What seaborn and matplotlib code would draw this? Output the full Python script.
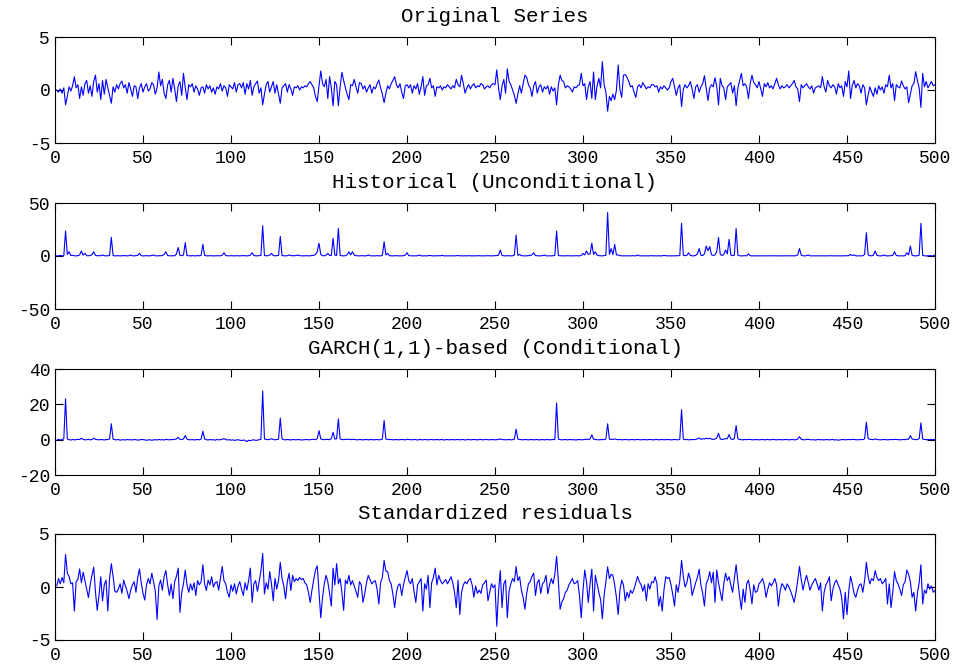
import numpy as np
import pandas as pd
import matplotlib
matplotlib.use("Agg")
import matplotlib.pyplot as plt
import seaborn as sns

titles = ["Original Series", "Historical (Unconditional)",
          "GARCH(1,1)-based (Conditional)", "Standardized residuals"]

original = [
 0.0, -0.2, 0.1, -0.3, 0.2, -1.4, -0.6, 0.3, -0.1, 0.4, 1.25, 0.2, 0.5, -0.8, 0.3, -0.5, 0.6, 0.9, -0.3, 0.4, -0.6, 0.8, 1.4, -0.2, 0.6,
 -0.9, 0.9, -0.4, 1.0, 0.2, -0.5, -1.25, 0.3, -0.2, 0.5, 0.1, 0.6, 0.85, 0.2, 0.5, -0.3, 0.7, 0.1, -0.6, 0.4, 0.3, -0.8, 0.2, 0.6, -0.2,
 0.3, 0.6, -0.1, 0.1, 0.7, 0.5, -0.4, 0.2, 1.7, 0.4, 1.0, -0.3, -0.8, 0.5, 0.9, -0.2, 1.1, 0.1, -1.1, 0.4, 0.8, -0.5, 1.57, 0.2, -0.9,
 0.5, 0.3, 0.6, -0.2, 0.4, 0.1, -0.5, 0.2, 0.3, -0.3, 0.5, 0.1, 0.4, -0.2, 0.2, -0.4, 0.3, 0.1, 0.6, -0.1, 0.4, 0.2, -0.6, 0.5, 0.3,
 0.1, 0.7, -0.2, 0.5, 0.6, 0.2, 0.7, -0.4, 0.6, 0.1, 0.9, -0.5, 0.3, 0.6, 0.85, -0.3, 0.2, -1.4, -0.4, 0.5, 0.8, -0.2, 0.3, 0.8, -0.3,
 0.5, -0.4, -1.26, 0.2, 0.4, 0.6, -0.2, 0.5, 0.1, -0.5, 0.3, 0.2, 0.4, 0.0, 0.3, 0.2, 0.4, 0.3, 0.6, 0.8, 0.5, 0.2, -0.6, -1.1, 0.4,
 1.8, 0.6, 0.3, 1.0, -0.8, 1.26, 0.2, -1.5, 0.8, 0.5, -1.48, 0.3, 1.67, 0.9, 0.2, -0.4, -0.9, 0.5, 0.4, 1.0, 0.3, -0.3, 0.7, 0.6, 0.1,
 0.4, -0.2, 0.2, 0.5, -0.3, 0.3, 0.1, 0.6, 0.94, 0.2, -0.4, -1.2, -0.3, 0.4, 0.1, 0.6, 0.9, 1.26, 0.5, 0.2, 0.6, -0.2, -0.8, 0.4, 0.5,
 0.2, 0.5, -0.3, 0.4, 0.1, 0.6, -0.4, 0.3, 1.26, -0.5, 0.4, 0.5, 1.1, 0.2, 0.4, -0.6, 0.3, 0.2, 0.4, 0.0, 0.3, 0.2, 0.5, 0.3, 0.1,
 0.4, 0.2, 1.0, 0.5, 0.3, 1.4, 0.6, -0.3, 0.2, 0.5, 0.1, 0.4, 0.6, 0.2, 0.4, 0.3, 0.6, 0.5, 0.1, 0.3, 0.4, 0.2, 0.5, 0.6, 0.5,
 1.9, 0.2, -0.9, 0.4, 1.0, -0.3, 2.0, 0.8, 0.5, 0.0, -0.5, -1.26, -0.4, 0.4, -0.3, 0.6, 1.4, 1.2, 0.5, 0.2, -0.6, 0.4, 0.8, -0.3, 0.3,
 0.5, -0.2, 0.3, 0.1, 0.4, -0.4, 0.3, -0.1, 0.2, -1.4, 0.5, 1.4, 0.9, 0.8, 0.2, 0.4, 0.3, 0.1, -0.2, 0.3, 0.2, 0.4, 0.5, 1.57, 0.4,
 0.6, -0.9, 0.3, 0.8, -0.8, 1.7, -0.9, 0.4, 1.1, 0.2, 2.67, 0.5, -0.2, -2.0, -0.6, -1.0, -0.4, -0.9, 0.0, 2.36, 0.0, -0.7, 1.4, 1.45, 1.2,
 0.8, 0.3, 0.4, -0.2, -0.7, 0.3, 0.5, 0.2, 0.7, 0.4, 0.1, 0.3, 0.2, 0.5, 0.5, 0.3, 0.4, -0.2, 0.3, 0.1, 0.4, 0.2, 0.0, 0.2, 0.8,
 1.1, 0.3, -0.5, 0.2, 0.5, -1.57, 0.1, 0.5, 0.2, 0.4, 0.8, 0.1, -0.8, 0.3, 0.5, -0.2, 0.3, 0.6, 1.35, 0.2, -1.0, 0.2, 0.5, 0.3, 1.16,
 0.3, -1.4, 1.1, 0.4, 0.2, -0.9, 0.3, 0.5, 0.7, -0.3, 0.4, -1.48, 0.2, 0.9, 1.57, 0.4, 0.6, 0.3, -0.8, 0.6, 1.4, 0.7, 0.5, 0.2, 0.8,
 0.1, -0.6, 0.6, 0.3, 0.7, 0.2, 0.4, 0.1, 0.6, 1.1, 0.5, 0.1, 0.4, 0.2, 0.3, 0.5, 0.2, 0.4, 0.6, 0.9, 0.3, 0.1, -1.1, 0.5, 0.2,
 0.4, 0.6, 0.3, 0.1, 0.4, -0.3, 0.2, 0.3, 0.4, 0.2, 1.26, 0.3, -0.2, 0.9, 0.4, 0.2, 0.5, 0.3, -0.4, 0.6, 0.2, 0.4, -0.6, 0.8, 0.3,
 1.8, -0.8, 0.4, 0.9, 0.2, 0.6, 0.4, -0.3, 0.5, 0.2, -1.4, -0.5, 0.3, -0.2, -0.6, 0.2, -0.4, 0.4, 0.0, 0.3, -0.3, 0.5, 0.3, 1.4, 0.2,
 0.6, -1.0, 0.5, 0.3, 0.2, 0.85, 0.4, 0.1, 0.3, -1.2, -0.4, 0.4, 0.6, 1.73, 0.9, 0.2, -1.64, 1.57, 0.3, 0.8, 0.2, 0.5, 0.8, 0.4, 0.5,
]

historical = [
 0.3, 0.1, 0.5, 0.2, 0.4, 23.6, 1.5, 4.0, 0.5, 0.6, 0.2, 0.1, 0.4, 1.0, 4.7, 0.8, 2.5, 0.3, 0.2, 0.5, 1.2, 4.0, 0.6, 0.2, 0.4,
 0.2, 1.0, 0.3, 0.1, 0.2, 0.4, 17.6, 0.5, 0.1, 0.2, 0.3, 0.1, 0.2, 0.4, 0.2, 0.1, 0.3, 1.0, 0.2, 0.1, 0.4, 0.6, 2.5, 0.3, 0.1,
 0.2, 0.3, 0.1, 0.2, 0.4, 1.0, 0.2, 0.1, 0.3, 0.2, 0.5, 1.5, 4.0, 0.4, 0.2, 0.1, 0.3, 0.2, 1.8, 8.0, 0.6, 0.3, 1.0, 12.6, 0.4,
 0.2, 0.1, 0.3, 0.2, 0.1, 0.4, 0.2, 0.5, 11.0, 0.6, 0.2, 0.1, 0.3, 0.2, 0.1, 0.2, 0.4, 0.3, 0.1, 0.8, 3.0, 0.4, 0.2, 0.1, 0.3,
 0.2, 0.1, 0.3, 0.2, 0.1, 0.2, 0.4, 0.2, 0.1, 0.3, 0.9, 3.0, 0.4, 0.2, 0.1, 0.3, 0.6, 28.6, 0.5, 0.2, 0.3, 0.8, 2.5, 0.4, 0.2,
 0.3, 0.6, 18.5, 0.4, 0.2, 0.1, 0.3, 1.0, 0.4, 0.2, 0.3, 0.4, 1.0, 0.3, 0.2, 0.1, 0.2, 0.3, 0.1, 0.2, 0.4, 0.6, 1.5, 4.0, 12.0,
 1.5, 0.3, 0.2, 0.8, 2.5, 0.6, 0.4, 16.7, 0.8, 0.5, 26.0, 0.6, 0.2, 0.1, 0.3, 1.2, 4.0, 1.0, 4.0, 0.8, 0.3, 0.2, 0.1, 0.3, 0.2,
 0.1, 0.2, 1.0, 0.3, 0.1, 0.2, 0.1, 0.3, 0.2, 0.1, 0.6, 13.5, 1.0, 2.5, 0.3, 0.2, 0.1, 0.2, 0.3, 0.1, 0.2, 0.1, 0.3, 0.8, 3.0,
 0.4, 0.2, 0.1, 0.2, 0.1, 0.3, 1.0, 0.2, 0.1, 0.2, 0.1, 0.3, 0.5, 0.2, 0.1, 0.2, 0.1, 0.3, 0.2, 0.6, 0.1, 0.2, 0.1, 0.2, 0.1,
 0.2, 0.1, 0.3, 0.5, 0.1, 0.2, 0.1, 0.2, 0.1, 0.3, 0.2, 0.1, 0.2, 0.1, 0.2, 0.3, 0.1, 0.2, 0.1, 0.2, 0.3, 0.2, 0.1, 0.2, 0.3,
 0.4, 0.8, 5.7, 0.5, 0.2, 0.1, 0.2, 0.3, 0.1, 0.2, 0.9, 19.8, 0.6, 1.5, 0.3, 0.2, 0.1, 0.2, 0.3, 0.6, 1.0, 3.0, 0.4, 0.2, 0.1,
 0.2, 0.3, 1.0, 0.2, 0.1, 0.2, 0.1, 0.3, 0.5, 23.6, 0.4, 0.2, 0.1, 0.2, 0.1, 0.3, 0.2, 0.1, 0.2, 0.1, 0.3, 0.2, 0.1, 0.6, 2.5,
 1.0, 4.7, 1.5, 2.0, 12.0, 1.5, 4.0, 0.8, 0.3, 0.2, 0.1, 0.3, 0.6, 41.0, 1.5, 7.0, 1.2, 11.0, 1.0, 1.0, 0.3, 0.2, 0.1, 0.2, 0.1,
 0.2, 0.1, 0.3, 0.2, 0.1, 1.0, 0.2, 0.1, 0.2, 0.1, 0.2, 0.1, 0.2, 0.3, 0.1, 0.2, 0.1, 0.2, 0.1, 0.2, 0.5, 0.3, 0.1, 0.2, 0.1,
 0.2, 0.1, 0.3, 0.2, 0.5, 30.8, 0.8, 0.3, 0.6, 3.0, 0.5, 0.2, 0.1, 0.6, 2.0, 7.0, 0.8, 0.4, 2.0, 9.4, 5.0, 8.8, 1.2, 0.5, 1.0,
 4.0, 17.6, 1.5, 0.5, 1.5, 5.7, 2.0, 15.7, 1.0, 0.3, 0.8, 26.0, 0.8, 0.2, 0.1, 0.2, 0.3, 0.1, 2.0, 0.3, 0.1, 0.2, 0.1, 0.2, 0.1,
 0.2, 0.1, 0.2, 0.1, 0.2, 0.1, 0.3, 0.1, 0.2, 0.1, 0.2, 0.1, 0.2, 0.1, 0.2, 0.1, 0.3, 0.1, 0.2, 0.1, 0.3, 1.0, 7.0, 0.8, 0.2,
 0.1, 0.3, 1.0, 0.2, 0.1, 0.2, 0.1, 0.2, 0.1, 0.2, 0.1, 0.2, 0.1, 0.2, 0.1, 0.3, 0.1, 0.2, 0.1, 0.2, 0.1, 0.2, 0.1, 0.3, 0.2,
 0.3, 1.5, 0.4, 1.0, 0.2, 0.1, 0.2, 0.1, 0.3, 1.5, 22.0, 1.0, 0.3, 0.2, 0.8, 4.7, 0.6, 0.2, 0.1, 0.3, 1.0, 0.2, 0.1, 0.2, 0.3,
 0.6, 4.0, 0.5, 0.2, 0.1, 0.2, 0.1, 0.3, 3.0, 1.0, 9.4, 0.6, 0.2, 0.1, 0.3, 0.8, 30.8, 0.6, 0.2, 0.1, 0.2, 0.3, 0.1, 0.2, 0.8,
]

garch = [
 -0.3, 0.2, -0.2, 0.1, 0.5, 23.2, 0.4, 0.0, -0.2, 0.1, -0.1, 0.0, 0.2, 0.1, 0.8, 0.1, -0.1, 0.0, 0.2, -0.1, 0.1, 0.8, 0.2, 0.0, -0.1,
 0.1, 0.0, -0.2, 0.1, 0.0, 0.4, 9.0, 0.3, 0.0, -0.1, 0.1, -0.3, -0.1, 0.0, -0.2, 0.1, -0.1, 0.0, -0.2, 0.1, 0.0, -0.3, -0.1, 0.1, 0.0,
 -0.1, -0.3, -0.2, 0.0, -0.4, -0.1, 0.0, -0.2, 0.1, -0.1, 0.0, -0.2, 0.2, 0.0, -0.1, 0.1, 0.0, 0.2, 0.4, 1.3, 0.2, 0.0, 0.5, 2.3, 0.3,
 0.0, -0.1, 0.1, -0.2, 0.0, 0.1, -0.1, 0.3, 4.8, 0.4, 0.0, -0.2, 0.1, -0.1, 0.0, -0.3, 0.1, -0.1, 0.0, 0.2, 0.6, 0.1, -0.2, 0.0, -0.3,
 -0.1, -0.4, -0.2, 0.0, -0.3, -0.5, -0.2, -0.4, -1.1, -0.3, -0.6, -0.2, -0.1, -0.4, -0.3, 0.0, 0.2, 27.6, 0.4, 0.1, 0.0, 0.2, 0.5, 0.1, -0.1,
 0.1, 0.3, 12.2, 0.3, 0.0, -0.1, 0.1, 0.0, -0.2, 0.1, 0.0, -0.1, 0.1, 0.0, -0.2, -0.1, 0.0, 0.1, -0.1, 0.0, 0.1, 0.2, 0.0, 0.6, 5.1,
 0.4, 0.1, 0.0, 0.2, 0.1, 0.0, 0.6, 4.2, 0.3, 0.5, 11.8, 0.4, 0.1, 0.0, 0.2, 0.1, 0.3, 0.0, 0.2, 0.1, 0.0, -0.1, 0.1, 0.0, -0.1,
 0.0, 0.1, -0.1, 0.0, 0.1, -0.1, 0.0, 0.1, -0.1, 0.0, 0.3, 10.9, 0.4, 0.2, 0.0, 0.1, -0.1, 0.0, 0.1, -0.1, 0.0, 0.1, 0.0, -0.1, 0.2,
 0.1, 0.0, -0.1, 0.1, 0.0, -0.2, 0.1, 0.0, -0.1, 0.1, 0.0, -0.1, 0.0, 0.1, -0.1, 0.0, 0.1, -0.1, 0.0, 0.1, -0.2, 0.0, 0.1, -0.1, 0.0,
 0.1, -0.1, 0.0, 0.1, -0.1, 0.0, 0.1, -0.2, 0.0, 0.1, -0.1, 0.0, 0.1, 0.0, -0.1, 0.0, 0.1, -0.1, 0.0, 0.1, 0.0, -0.1, 0.1, 0.0, -0.1,
 0.0, 0.1, 0.4, 0.1, 0.0, -0.1, 0.0, 0.1, -0.1, 0.0, 0.3, 6.0, 0.3, 0.1, 0.0, -0.1, 0.1, 0.0, -0.1, 0.0, 0.1, -0.1, 0.0, 0.1, -0.2,
 0.0, 0.1, -0.1, 0.0, 0.1, -0.1, 0.0, 0.1, 0.0, 20.8, 0.3, 0.0, -0.1, 0.0, 0.1, -0.1, 0.0, 0.1, -0.1, 0.0, -0.2, 0.0, 0.1, -0.1, 0.0,
 0.1, 0.3, 0.0, 0.4, 2.7, 0.3, 0.1, 0.0, -0.1, 0.0, 0.1, 0.0, 0.4, 9.0, 0.3, 0.1, 0.2, 0.4, 0.1, 0.0, 0.1, -0.1, 0.0, 0.1, 0.0,
 -0.1, 0.0, 0.1, -0.1, 0.0, 0.1, 0.0, -0.1, 0.0, 0.1, -0.1, 0.0, 0.1, 0.0, -0.1, 0.0, 0.1, -0.1, 0.0, 0.1, -0.1, 0.0, 0.1, 0.0, -0.1,
 0.0, 0.1, 0.0, -0.1, 0.2, 17.0, 0.3, 0.0, 0.1, -0.1, 0.0, 0.1, 0.0, 0.2, 0.4, 1.0, 0.2, 0.5, 0.4, 0.8, 0.5, 0.8, 0.3, 0.1, 0.4,
 1.0, 3.6, 0.4, 0.1, 0.3, 0.6, 0.5, 2.9, 0.4, 0.1, 0.6, 8.0, 0.5, 0.1, 0.0, -0.1, 0.1, 0.0, 0.2, 0.1, 0.0, -0.1, 0.1, 0.0, -0.1,
 0.0, 0.1, -0.1, 0.0, 0.1, -0.1, 0.0, 0.1, 0.0, -0.1, 0.0, 0.1, -0.1, 0.0, 0.1, 0.0, -0.1, 0.0, 0.1, -0.1, 0.0, 0.3, 1.7, 0.2, 0.0,
 -0.1, 0.1, 0.2, 0.0, -0.1, 0.0, -0.2, 0.0, 0.1, -0.1, 0.0, -0.2, 0.1, 0.0, -0.1, 0.0, 0.1, -0.2, 0.0, -0.3, -0.1, 0.0, 0.1, -0.1, 0.0,
 0.1, 0.0, 0.2, 0.1, 0.0, -0.1, 0.0, 0.1, 0.0, 0.5, 9.9, 0.6, 0.2, 0.1, 0.0, 0.4, 0.1, 0.0, -0.1, 0.0, 0.1, 0.0, -0.1, 0.0, 0.1,
 0.0, 0.2, 0.1, 0.0, -0.1, 0.0, 0.1, 0.0, 0.3, 0.2, 2.3, 0.4, 0.1, 0.0, 0.2, 0.5, 9.5, 0.4, 0.1, 0.0, 0.1, 0.0, 0.1, 0.0, 0.1,
]

residuals = [
 0.1, 0.8, 0.3, 0.9, 0.4, 3.07, 1.3, 1.0, 0.3, 0.4, -2.27, 0.5, 0.7, 1.7, 0.4, 1.4, 0.6, -0.2, -1.0, 0.2, 1.1, 1.88, -0.5, -2.2, -0.8,
 0.97, -1.3, 0.2, 0.65, -2.27, 0.8, 2.2, 1.0, -0.4, -0.5, -0.2, 0.3, -0.6, 0.65, 0.1, -0.4, -1.1, -0.3, 0.2, 0.5, -0.5, 0.9, 1.7, 0.4, -0.6,
 -1.23, 0.2, 0.8, 0.3, 1.3, 0.5, -0.4, -3.07, 0.1, 0.65, -0.3, 1.0, 1.55, 0.2, -0.8, 0.3, -1.1, 0.5, 1.0, 1.78, -2.4, -0.5, 0.3, 1.6, 0.2,
 -0.5, 0.3, -0.3, 0.4, -0.8, 0.6, 0.2, 0.5, 2.1, 0.3, -0.33, 0.65, 0.2, 0.97, 0.0, 0.4, 0.5, -0.3, 0.8, 1.94, 0.6, 0.3, -0.5, -0.97, 0.2,
 -0.4, 0.3, -0.65, 0.1, 0.5, -0.2, -0.8, 0.4, -0.3, 0.6, 1.78, -1.45, 0.3, 0.6, -0.4, 0.5, 1.5, 3.17, -0.65, 0.4, -0.2, 1.45, 0.3, -1.3, 0.8,
 -0.2, 0.6, 2.33, 0.8, 0.1, -1.1, 0.5, 1.3, -0.33, 1.1, 0.5, 0.8, 0.6, 0.9, 0.7, 0.8, 0.4, 0.2, -0.5, -1.45, -0.3, 0.7, 1.6, 2.0, -0.4,
 -2.9, -1.0, 0.3, 1.1, 0.5, -0.6, -1.8, 1.78, 0.2, 2.2, 0.3, 0.8, -0.5, -2.2, 0.65, 0.3, 1.1, 0.2, 0.6, 0.1, -0.4, -0.97, 0.5, 0.2, -1.45,
 -0.6, 0.4, 1.1, 0.7, 0.3, 0.5, 0.6, -0.2, -1.6, 0.4, 0.9, 2.5, 1.5, 1.45, 0.6, 0.3, -0.7, -1.94, -0.5, 0.16, 0.3, -0.8, 0.2, 0.9, 1.55,
 0.6, 0.3, 0.8, -0.4, -1.45, 0.2, 0.5, 0.8, -2.27, 0.3, -0.2, 1.1, -1.94, 0.4, 0.9, 1.78, 0.2, 1.1, 0.6, 0.3, 0.5, 0.7, 0.3, 0.6, 0.97,
 0.4, -0.5, -1.94, 0.65, -2.6, -0.5, 0.2, 0.5, 0.3, 0.65, 0.8, 0.2, -0.97, 0.1, -0.6, -0.3, -0.6, 0.2, 0.4, 0.65, -1.3, -0.5, 0.3, -0.06, 0.2,
 -3.7, -0.5, 1.55, -1.94, 0.3, 0.65, -2.9, -0.4, 0.3, 0.8, 0.5, 1.94, 0.6, 0.97, -0.3, -1.0, -2.1, -0.6, 0.3, 0.5, 1.0, 1.3, -0.8, 0.4, 0.7,
 -0.6, 0.3, 0.5, 1.1, -0.65, 0.2, 0.8, 0.3, 1.2, 2.9, 0.5, -2.1, -1.4, -1.1, -0.5, -0.3, 0.2, 0.5, 0.8, 0.3, 0.4, 0.6, -0.8, -2.9, -0.3,
 1.6, 0.5, -1.45, 0.3, 1.68, -2.27, 1.1, 0.3, -0.5, -1.2, -3.0, -0.8, 0.5, 1.9, 0.8, 1.2, 1.1, 0.2, -1.0, -2.6, -0.3, 0.65, 0.2, -1.3, -0.5,
 -1.0, -0.3, -0.6, -0.2, 0.4, 1.0, 0.5, 0.2, -0.4, 0.2, -1.3, 0.3, -0.2, 0.5, 0.4, 0.97, 0.3, -1.8, -0.9, -2.27, -0.3, 0.97, 0.8, 0.9, 0.2,
 -0.7, -1.8, 0.2, -0.5, 0.6, 2.5, 1.0, 0.0, 0.4, 1.3, 0.7, -0.8, -0.2, 0.4, 0.9, 1.68, 0.2, -0.6, -1.8, 0.3, 0.7, 1.45, 0.4, 1.4, -1.45,
 1.6, 0.4, -0.5, -1.3, 0.3, 1.3, 0.6, 0.97, 0.2, -0.5, 0.8, 2.1, 0.5, -0.9, -2.1, -0.2, -1.45, 0.3, 0.65, -0.3, -1.6, 0.2, -0.5, -0.4, 0.3,
 0.5, 0.8, 0.2, -0.97, -0.2, 0.4, 0.1, 0.4, 0.8, 0.2, -1.8, -0.4, 0.32, 0.1, -0.3, 0.3, 0.0, -0.4, -0.9, -1.45, -0.5, 0.6, 1.94, 0.7, -0.3,
 0.5, 1.1, 0.4, -0.3, 0.2, 0.5, 0.8, 0.3, -0.3, 0.4, -2.27, -0.5, 0.2, 0.5, 0.97, -1.3, -0.2, 0.4, 0.65, 0.2, -0.2, -1.0, -3.0, -0.5, -2.6,
 -0.4, 1.0, 0.3, -0.6, -0.97, -0.3, 0.2, 0.3, -0.5, 0.6, 2.33, 1.0, 0.3, 0.8, 0.6, 1.55, 0.9, 0.6, 0.8, 0.3, 0.5, 0.8, -1.6, 0.3, -1.94,
 -0.5, 1.45, 0.6, 0.3, -0.2, -0.8, 0.2, 0.5, 1.6, 1.2, 0.5, -0.97, -0.5, -2.27, -0.6, 0.4, 2.1, -1.6, -0.3, -0.6, 0.3, -0.2, 0.1, -0.5, -0.3,
]

series = [original, historical, garch, residuals]
ylims = [(-5, 5), (-50, 50), (-20, 40), (-5, 5)]
yticks = [[-5, 0, 5], [-50, 0, 50], [-20, 0, 20, 40], [-5, 0, 5]]
xticks = list(range(0, 501, 50))

sns.set_theme(style="white")
plt.rcParams["font.family"] = ["Liberation Mono", "DejaVu Sans Mono"]
plt.rcParams["axes.unicode_minus"] = False

fig = plt.figure(figsize=(9.58, 6.66), dpi=100)
W, H = 958.0, 666.0
tops = [37, 203, 369, 534]
height = 106
left, width = 55, 880

for i, (vals, title) in enumerate(zip(series, titles)):
    ax = fig.add_axes([left / W, 1 - (tops[i] + height) / H, width / W, height / H])
    df = pd.DataFrame({"t": np.arange(1, len(vals) + 1), "v": vals})
    sns.lineplot(data=df, x="t", y="v", ax=ax, color="#0000ff", linewidth=0.8)
    ax.set_xlim(0, 500)
    ax.set_ylim(*ylims[i])
    ax.set_xticks(xticks)
    ax.set_yticks(yticks[i])
    ax.set_xlabel("")
    ax.set_ylabel("")
    ax.set_title(title, fontsize=15, color="black", pad=11)
    for s in ax.spines.values():
        s.set_visible(True)
        s.set_color("black")
        s.set_linewidth(0.8)
    ax.tick_params(direction="in", length=6, width=0.8, colors="black",
                   labelsize=13, top=True, right=True, bottom=True, left=True)
    ax.tick_params(axis="x", pad=5)
    ax.set_facecolor("white")

fig.savefig("out.png", dpi=100, facecolor="white")
